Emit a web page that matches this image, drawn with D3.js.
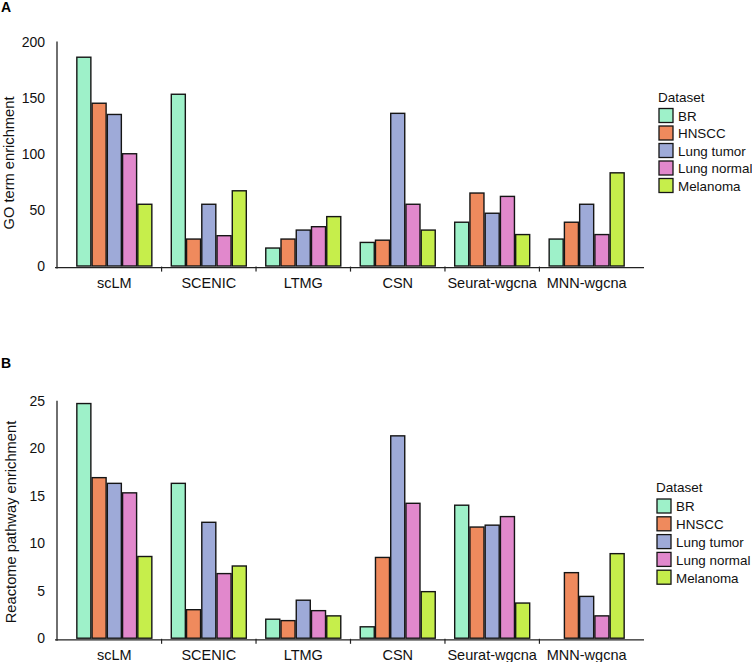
<!DOCTYPE html>
<html>
<head>
<meta charset="utf-8">
<script src="https://cdn.jsdelivr.net/npm/d3@7"></script>
<style>
  html, body { margin: 0; padding: 0; background: #fff; }
  svg { display: block; font-family: "Liberation Sans", Arial, Helvetica, sans-serif; }
</style>
</head>
<body>
<svg id="chart" width="752" height="662"></svg>
<script>
// ---------- data ----------
const categories = ["scLM", "SCENIC", "LTMG", "CSN", "Seurat-wgcna", "MNN-wgcna"];
const datasets = ["BR", "HNSCC", "Lung tumor", "Lung normal", "Melanoma"];
const colors = ["#9ef1c9", "#ef8a5d", "#9eaad8", "#e188cc", "#c6ee4b"];

// Panel A: GO term enrichment (one array per dataset, in category order)
const goBR         = [186, 153, 16, 21, 39, 24];
const goHNSCC      = [145, 24, 24, 23, 65, 39];
const goLungTumor  = [135, 55, 32, 136, 47, 55];
const goLungNormal = [100, 27, 35, 55, 62, 28];
const goMelanoma   = [55, 67, 44, 32, 28, 83];
const goTicks = [0, 50, 100, 150, 200];

// Panel B: Reactome pathway enrichment
const reBR         = [24.7, 16.3, 2.0, 1.2, 14.0, null];
const reHNSCC      = [16.9, 3.0, 1.85, 8.5, 11.7, 6.9];
const reLungTumor  = [16.3, 12.2, 4.0, 21.3, 11.9, 4.4];
const reLungNormal = [15.3, 6.8, 2.9, 14.2, 12.8, 2.35];
const reMelanoma   = [8.6, 7.6, 2.35, 4.9, 3.7, 8.9];
const reTicks = [0, 5, 10, 15, 20, 25];

// ---------- drawing ----------
const svg = d3.select("#chart");
svg.append("rect").attr("width", 752).attr("height", 662).attr("fill", "#fff");

function drawPanel(opt) {
  const g = svg.append("g");
  const series = [opt.values[0], opt.values[1], opt.values[2], opt.values[3], opt.values[4]];

  const x0 = d3.scaleBand().domain(categories).range([opt.left, opt.right])
    .paddingInner(0.206).paddingOuter(0.21);
  const x1 = d3.scaleBand().domain(datasets).range([0, x0.bandwidth()]).paddingInner(0.08);
  const y = d3.scaleLinear().domain([0, opt.max]).range([opt.bottom, opt.top]);
  const color = d3.scaleOrdinal().domain(datasets).range(colors);

  // bars
  const rows = [];
  categories.forEach((c, ci) => {
    datasets.forEach((d, di) => {
      const v = series[di][ci];
      if (v !== null && v !== undefined) rows.push({ c, d, v });
    });
  });
  g.selectAll("rect.bar").data(rows).enter().append("rect")
    .attr("class", "bar")
    .attr("x", r => x0(r.c) + x1(r.d))
    .attr("y", r => y(r.v))
    .attr("width", x1.bandwidth())
    .attr("height", r => y(0) - y(r.v))
    .attr("fill", r => color(r.d))
    .attr("stroke", "#151515")
    .attr("stroke-width", 1.4);

  const axisY = opt.bottom + 1.6;
  // y axis line
  g.append("line")
    .attr("x1", opt.left).attr("x2", opt.left)
    .attr("y1", y(opt.max)).attr("y2", axisY + 1)
    .attr("stroke", "#222").attr("stroke-width", 1.3);
  // x axis line
  g.append("line")
    .attr("x1", opt.left - 2).attr("x2", opt.right)
    .attr("y1", axisY).attr("y2", axisY)
    .attr("stroke", "#222").attr("stroke-width", 1.3);

  // y tick labels
  g.selectAll("text.ytick").data(opt.ticks).enter().append("text")
    .attr("class", "ytick")
    .attr("x", opt.left - 12)
    .attr("y", t => y(t))
    .attr("dy", "0.36em")
    .attr("text-anchor", "end")
    .attr("font-size", 14)
    .attr("fill", "#111")
    .text(t => t);

  // separator ticks between categories
  const step = x0.step();
  const gap = step * x0.paddingInner();
  g.selectAll("line.sep").data(categories.slice(1)).enter().append("line")
    .attr("class", "sep")
    .attr("x1", c => x0(c) - gap / 2).attr("x2", c => x0(c) - gap / 2)
    .attr("y1", axisY - 1).attr("y2", axisY + 4)
    .attr("stroke", "#222").attr("stroke-width", 1.2);

  // x category labels
  g.selectAll("text.xlab").data(categories).enter().append("text")
    .attr("class", "xlab")
    .attr("x", c => x0(c) + x0.bandwidth() / 2)
    .attr("y", axisY + 20.5)
    .attr("text-anchor", "middle")
    .attr("font-size", 14.5)
    .attr("fill", "#111")
    .text(c => c);

  // y title
  g.append("text")
    .attr("transform", `translate(${opt.titleX},${opt.titleY}) rotate(-90)`)
    .attr("text-anchor", "middle")
    .attr("dy", "0.35em")
    .attr("font-size", 14.7)
    .attr("fill", "#111")
    .text(opt.title);

  // panel letter
  g.append("text")
    .attr("x", 1).attr("y", opt.letterY)
    .attr("font-size", 14).attr("font-weight", "bold")
    .attr("fill", "#000")
    .text(opt.letter);

  // legend
  const lg = g.append("g");
  lg.append("text")
    .attr("x", opt.legX).attr("y", opt.legY)
    .attr("font-size", 13.5).attr("fill", "#111")
    .text("Dataset");
  const items = lg.selectAll("g.item").data(datasets).enter().append("g")
    .attr("class", "item")
    .attr("transform", (d, i) => `translate(${opt.legX + 1},${opt.legY + 7 + i * opt.legStep})`);
  items.append("rect")
    .attr("width", 14).attr("height", 14)
    .attr("fill", d => color(d))
    .attr("stroke", "#151515").attr("stroke-width", 1.3);
  items.append("text")
    .attr("x", 19).attr("y", 7.5)
    .attr("dy", "0.36em")
    .attr("font-size", 13.4).attr("fill", "#111")
    .text(d => d);
}

drawPanel({
  values: [goBR, goHNSCC, goLungTumor, goLungNormal, goMelanoma],
  ticks: goTicks, max: 200,
  left: 57, right: 644, top: 41.5, bottom: 266,
  title: "GO term enrichment", titleX: 9, titleY: 163,
  letter: "A", letterY: 12,
  legX: 658, legY: 101.5, legStep: 17.5
});

drawPanel({
  values: [reBR, reHNSCC, reLungTumor, reLungNormal, reMelanoma],
  ticks: reTicks, max: 25,
  left: 57, right: 644, top: 400.7, bottom: 638.2,
  title: "Reactome pathway enrichment", titleX: 11, titleY: 522,
  letter: "B", letterY: 368,
  legX: 656, legY: 492, legStep: 17.8
});
</script>
</body>
</html>
